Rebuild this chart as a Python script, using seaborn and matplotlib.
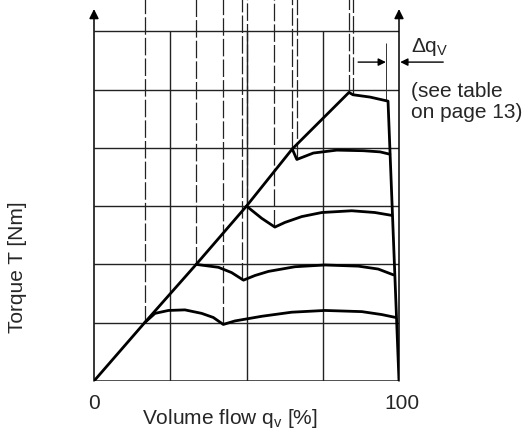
import numpy as np
import pandas as pd
import seaborn as sns
import matplotlib.pyplot as plt

# outer envelope: diagonal up to the peak, top curve, then the drop to 100 %
env_q = [0.0, 16.6, 33.5, 50.0, 65.0, 83.6, 84.9, 90.5, 96.4, 100.0]
env_t = [0.0, 1.0, 2.0, 3.0, 3.98, 4.95, 4.91, 4.87, 4.80, 0.0]

# torque curves (volume flow %, torque in grid units)
c1_q = [16.6, 20.0, 24.4, 29.8, 35.3, 39.1, 42.4, 46.2, 55.0, 64.8, 75.7, 87.8, 94.3, 98.9]
c1_t = [1.0, 1.16, 1.21, 1.22, 1.16, 1.09, 0.97, 1.03, 1.11, 1.18, 1.21, 1.19, 1.14, 1.09]
c2_q = [33.5, 40.8, 45.1, 49.0, 52.8, 57.2, 65.9, 75.7, 86.7, 93.2, 98.2]
c2_t = [2.0, 1.95, 1.86, 1.73, 1.81, 1.88, 1.96, 1.99, 1.97, 1.92, 1.82]
c3_q = [50.0, 55.0, 59.3, 62.6, 68.1, 74.7, 84.5, 92.1, 97.7]
c3_t = [3.0, 2.79, 2.64, 2.72, 2.82, 2.89, 2.92, 2.89, 2.84]
c4_q = [65.0, 66.5, 71.9, 79.6, 88.3, 93.8, 97.0]
c4_t = [3.98, 3.80, 3.91, 3.96, 3.95, 3.93, 3.89]

# dash-dotted construction lines: position and lower end
dash_q = [16.6, 33.5, 42.4, 48.6, 50.0, 59.1, 65.0, 66.5, 83.6, 84.9]
dash_t = [1.0, 2.0, 0.97, 1.73, 3.0, 2.64, 3.98, 3.81, 4.95, 4.91]

grid_q = [25, 50, 75]
grid_t = [1, 2, 3, 4, 5, 6]

curves = pd.concat([
    pd.DataFrame({"q": q, "t": t, "curve": name})
    for name, q, t in [("env", env_q, env_t), ("c1", c1_q, c1_t),
                       ("c2", c2_q, c2_t), ("c3", c3_q, c3_t),
                       ("c4", c4_q, c4_t)]
])

sns.set_style("white")
plt.rcParams["font.family"] = ["Liberation Sans", "DejaVu Sans"]

fig = plt.figure(figsize=(5.23, 4.3), dpi=100)
ax = fig.add_axes([94 / 523, 49 / 430, 305 / 523, 381 / 430])
ax.set_xlim(0, 100)
ax.set_ylim(0, 381 / 58.3)
ax.set_axis_off()

# grid
ax.hlines(grid_t, 0, 100, color="#222222", lw=1.0)
ax.hlines([0], 0, 100, color="#222222", lw=1.1)
ax.vlines(grid_q, 0, 6, color="#222222", lw=1.0)
ax.vlines(dash_q, dash_t, 6.6, color="#222222", lw=0.9,
          linestyles=[(0, (14, 2.5))], clip_on=False)

# Delta q marker line
ax.vlines([95.7], 4.82, 5.8, color="#333333", lw=0.7)

# curves
sns.lineplot(data=curves, x="q", y="t", units="curve", estimator=None,
             sort=False, color="black", lw=2.0, ax=ax, legend=False)

# axis arrows
for xq in [0, 100]:
    ax.annotate("", xy=(xq, 6.38), xytext=(xq, 0),
                arrowprops=dict(arrowstyle="-|>", lw=1.1, color="black",
                                mutation_scale=14, shrinkA=0, shrinkB=0))

# Delta q arrows
ax.annotate("", xy=(95.7, 5.47), xytext=(86.6, 5.47),
            arrowprops=dict(arrowstyle="-|>", lw=1.0, color="black",
                            mutation_scale=11, shrinkA=0, shrinkB=0))
ax.annotate("", xy=(100.4, 5.47), xytext=(114.5, 5.47), annotation_clip=False,
            arrowprops=dict(arrowstyle="-|>", lw=1.0, color="black",
                            mutation_scale=11, shrinkA=0, shrinkB=0))

fs = 15
ax.text(103.8, 5.73, "Δq$_\\mathregular{V}$", fontsize=fs, ha="left", va="center",
        clip_on=False)
ax.text(103.8, 4.96, "(see table", fontsize=fs, ha="left", va="center",
        clip_on=False)
ax.text(103.8, 4.60, "on page 13)", fontsize=fs, ha="left", va="center",
        clip_on=False)
ax.text(0, -0.38, "0", fontsize=fs, ha="center", va="center", clip_on=False)
ax.text(101, -0.38, "100", fontsize=fs, ha="center", va="center", clip_on=False)
ax.text(44.6, -0.64, "Volume flow q$_\\mathregular{v}$ [%]", fontsize=fs,
        ha="center", va="center", clip_on=False)
ax.text(-25.2, 1.96, "Torque T [Nm]", fontsize=fs, rotation=90,
        ha="center", va="center", clip_on=False)

fig.savefig("out.png", dpi=100)
